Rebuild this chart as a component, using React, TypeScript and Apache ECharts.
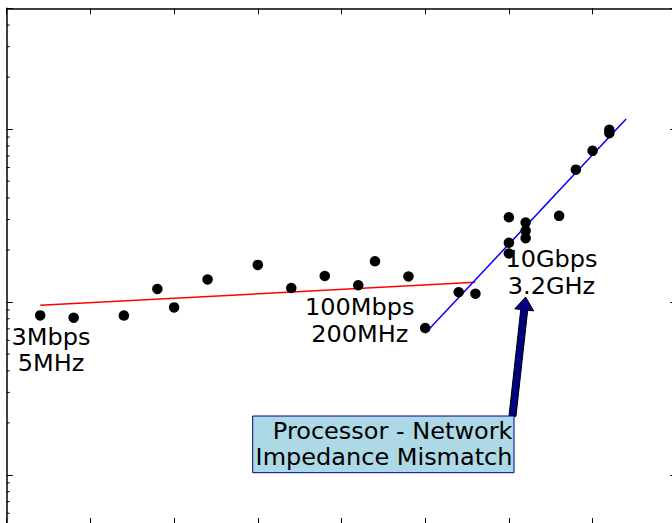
import React, { useEffect, useRef } from "react";
import * as echarts from "echarts";

// ---- data (year, ratio on a log scale) ----
const years = [1977, 1979, 1982, 1984, 1985, 1987, 1990, 1992, 1994, 1996, 1997, 1999, 2000, 2002, 2003, 2005, 2005, 2005, 2006, 2006, 2006, 2008, 2009, 2010, 2011, 2011];
const ratios = [8.37, 8.11, 8.35, 11.9, 9.31, 13.5, 16.4, 12.05, 14.15, 12.5, 17.2, 14.05, 7.07, 11.4, 11.17, 30.9, 22.0, 19.1, 28.8, 25.8, 23.4, 31.5, 58.3, 74.9, 99.1, 94.8];
const earlyTrendYears = [1977, 2003];
const earlyTrendValues = [9.57, 13.0];
const lateTrendYears = [2000, 2012];
const lateTrendValues = [6.59, 114.3];
const minorTickValues = [0.6, 0.7, 0.8, 0.9, 2, 3, 4, 5, 6, 7, 8, 9, 20, 30, 40, 50, 60, 70, 80, 90, 200, 300, 400];
const arrowTip = [2006, 10.7];

const X_MIN = 1975;
const X_MAX = 2015;
const Y_MIN = 0.52;
const Y_MAX = 500;

const FONT = "DejaVu Sans";
const BOX_W = 680;
const BOX_H = 530;

export default function App() {
  const ref = useRef<HTMLDivElement>(null);

  useEffect(() => {
    document.body.style.margin = "0";
    document.body.style.overflow = "hidden";
    const chart = echarts.init(ref.current!, null, { renderer: "svg" });

    const tickStyle = { color: "#000", width: 1 };
    const xAxisBase = {
      type: "value",
      min: X_MIN,
      max: X_MAX,
      interval: 5,
      axisLine: { show: true, onZero: false, lineStyle: { color: "#000", width: 1.5 } },
      axisTick: { show: true, inside: true, length: 6, lineStyle: tickStyle },
      axisLabel: { show: false },
      splitLine: { show: false },
    };
    const yAxisBase = {
      type: "log",
      logBase: 10,
      min: Y_MIN,
      max: Y_MAX,
      axisLine: { show: true, onZero: false, lineStyle: { color: "#000", width: 1.5 } },
      axisTick: { show: true, inside: true, length: 6, lineStyle: tickStyle },
      axisLabel: { show: false },
      splitLine: { show: false },
    };

    const scatterData = years.map((y, i) => [y, ratios[i]]);
    const minorData: number[][] = [];
    minorTickValues.forEach((v) => {
      minorData.push([X_MIN, v, 1]);
      minorData.push([X_MAX, v, -1]);
    });

    chart.setOption({
      animation: false,
      backgroundColor: "#fff",
      grid: { left: 6.7, top: 8.3, right: BOX_W - 676.3, bottom: BOX_H - 524, containLabel: false },
      xAxis: [
        { ...xAxisBase, position: "bottom" },
        { ...xAxisBase, position: "top" },
      ],
      yAxis: [
        { ...yAxisBase, position: "left" },
        { ...yAxisBase, position: "right" },
      ],
      series: [
        {
          type: "custom",
          xAxisIndex: 0,
          yAxisIndex: 0,
          silent: true,
          data: minorData,
          renderItem: (params: any, api: any) => {
            const p = api.coord([api.value(0), api.value(1)]);
            const dir = api.value(2);
            return {
              type: "line",
              shape: { x1: p[0], y1: p[1], x2: p[0] + 3 * dir, y2: p[1] },
              style: { stroke: "#000", lineWidth: 1 },
            };
          },
        },
        {
          type: "line",
          data: earlyTrendYears.map((y, i) => [y, earlyTrendValues[i]]),
          showSymbol: false,
          symbol: "none",
          lineStyle: { color: "#ff0000", width: 1.5 },
          z: 3,
        },
        {
          type: "line",
          data: lateTrendYears.map((y, i) => [y, lateTrendValues[i]]),
          showSymbol: false,
          symbol: "none",
          lineStyle: { color: "#0000ff", width: 1.5 },
          z: 3,
        },
        {
          type: "scatter",
          data: scatterData,
          symbol: "circle",
          symbolSize: 10.5,
          itemStyle: { color: "#000", opacity: 1 },
          z: 4,
        },
      ],
    });

    // annotations
    const tip = chart.convertToPixel({ xAxisIndex: 0, yAxisIndex: 0 }, arrowTip) as number[];
    const tail = [512.5, 416];
    const dx = tip[0] - tail[0];
    const dy = tip[1] - tail[1];
    const len = Math.sqrt(dx * dx + dy * dy);
    const ux = dx / len, uy = dy / len;
    const nx = -uy, ny = ux;
    const sw = 7, hw = 19, hl = 13;
    const hx = tip[0] - ux * hl, hy = tip[1] - uy * hl;
    const arrowPts = [
      [tail[0] + nx * sw / 2, tail[1] + ny * sw / 2],
      [hx + nx * sw / 2, hy + ny * sw / 2],
      [hx + nx * hw / 2, hy + ny * hw / 2],
      [tip[0], tip[1]],
      [hx - nx * hw / 2, hy - ny * hw / 2],
      [hx - nx * sw / 2, hy - ny * sw / 2],
      [tail[0] - nx * sw / 2, tail[1] - ny * sw / 2],
    ];

    const label = (text: string, x: number, y: number, align: string = "center") => ({
      type: "text",
      x,
      y,
      scaleY: 0.96,
      z: 10,
      style: {
        text,
        fill: "#000",
        font: `24px "${FONT}"`,
        align,
        verticalAlign: "middle",
      },
    });

    chart.setOption({
      graphic: [
        label("3Mbps", 51, 337),
        label("5MHz", 51, 363.5),
        label("100Mbps", 359.7, 307),
        label("200MHz", 359.7, 334),
        label("10Gbps", 551.5, 259.5),
        label("3.2GHz", 551.5, 286.5),
        {
          type: "polygon",
          z: 9,
          shape: { points: arrowPts },
          style: { fill: "#000080", stroke: "#000", lineWidth: 1 },
        },
        {
          type: "rect",
          z: 9,
          shape: { x: 252.7, y: 416, width: 261.3, height: 56.7 },
          style: { fill: "#add8e6", stroke: "#00008b", lineWidth: 1 },
        },
        label("Processor - Network", 512.5, 431, "right"),
        label("Impedance Mismatch", 512.5, 457, "right"),
      ],
    });

    return () => chart.dispose();
  }, []);

  return <div ref={ref} style={{ width: BOX_W, height: BOX_H }} />;
}
